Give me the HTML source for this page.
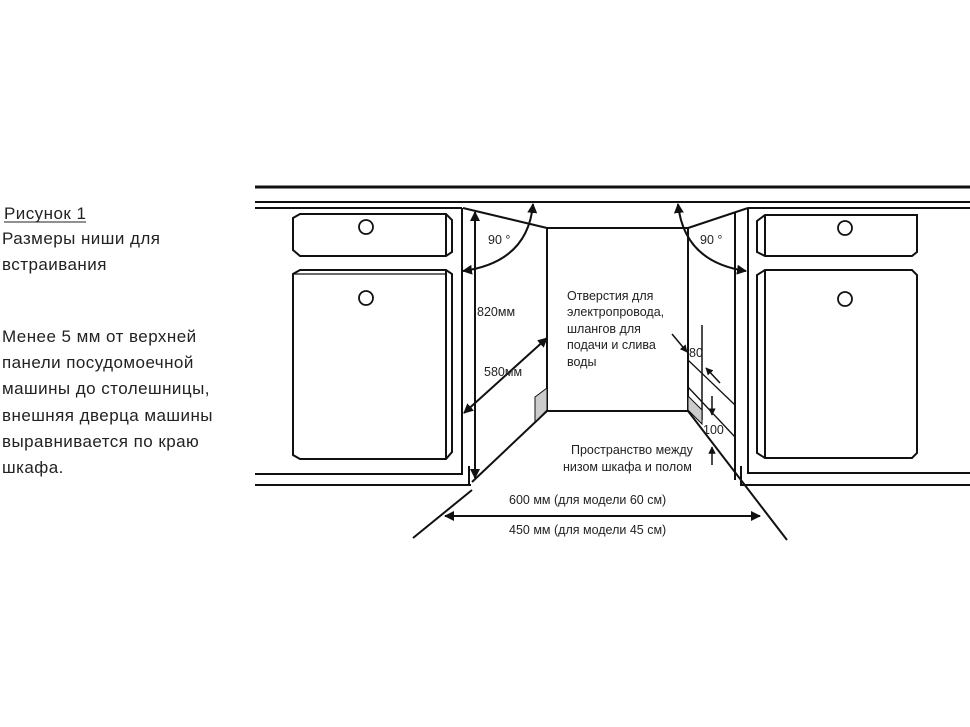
<!DOCTYPE html>
<html><head><meta charset="utf-8"><style>
body{margin:0;background:#fff;width:970px;height:727px;overflow:hidden}
svg{display:block}
text{font-family:"Liberation Sans",sans-serif;fill:#222}
</style></head><body>
<svg width="970" height="727" viewBox="0 0 970 727" xmlns="http://www.w3.org/2000/svg">
<defs>
<marker id="a" viewBox="0 0 10 10" refX="9" refY="5" markerWidth="5" markerHeight="5" orient="auto-start-reverse"><path d="M0,0L10,5L0,10z" fill="#111"/></marker>
</defs>
<g font-size="17" letter-spacing="0.45">
<text x="4" y="219">Рисунок 1</text>
<line x1="4" y1="222" x2="86" y2="222" stroke="#222" stroke-width="1"/>
<text x="2" y="244">Размеры ниши для</text>
<text x="2" y="270">встраивания</text>
<text x="2" y="342">Менее 5 мм от верхней</text>
<text x="2" y="368">панели посудомоечной</text>
<text x="2" y="394">машины до столешницы,</text>
<text x="2" y="421">внешняя дверца машины</text>
<text x="2" y="447">выравнивается по краю</text>
<text x="2" y="473">шкафа.</text>
</g>
<g stroke="#111" fill="none" stroke-width="2">
<line x1="255" y1="187" x2="970" y2="187" stroke-width="3"/>
<line x1="255" y1="202" x2="970" y2="202"/>
<line x1="255" y1="208" x2="462" y2="208"/>
<polyline points="462,208 462,474 255,474"/>
<line x1="255" y1="485" x2="471" y2="485"/>
<line x1="469" y1="466" x2="469" y2="485"/>
<path d="M300,214 H446 L452,220 V252 L446,256 H300 L293,250 V218Z"/>
<line x1="446" y1="214" x2="446" y2="256"/>
<path d="M300,270 H446 L452,274 V452 L446,459 H300 L293,455 V274Z"/>
<line x1="446" y1="270" x2="446" y2="459"/>
<line x1="293" y1="274" x2="446" y2="274" stroke-width="1.2"/>
<circle cx="366" cy="227" r="7" stroke-width="1.8"/>
<circle cx="366" cy="298" r="7" stroke-width="1.8"/>
<line x1="463" y1="208" x2="547" y2="228"/>
<rect x="547" y="228" width="141" height="183"/>
<line x1="547" y1="411" x2="472" y2="482"/>
<line x1="688" y1="228" x2="748" y2="208"/>
<line x1="688" y1="411" x2="787" y2="540"/>
<line x1="735" y1="213" x2="735" y2="480"/>
<polyline points="748,208 748,473 970,473"/>
<line x1="748" y1="208" x2="970" y2="208"/>
<polyline points="741,466 741,485 970,485"/>
<path d="M765,215 H917 V252 L912,256 H765 L757,252 V221Z"/>
<line x1="765" y1="215" x2="765" y2="256"/>
<path d="M765,270 H912 L917,275 V453 L912,458 H765 L757,453 V275Z"/>
<line x1="765" y1="270" x2="765" y2="458"/>
<circle cx="845" cy="228" r="7" stroke-width="1.8"/>
<circle cx="845" cy="299" r="7" stroke-width="1.8"/>
<line x1="702" y1="325" x2="702" y2="420" stroke-width="1.5"/>
<line x1="688" y1="360" x2="735" y2="405" stroke-width="1.3"/>
<line x1="688" y1="387" x2="735" y2="437" stroke-width="1.3"/>
</g>
<path d="M535,397 L547,388 V410 L535,422Z" fill="#ccc" stroke="#111" stroke-width="1"/>
<path d="M688,396 L702,410 V424 L688,410Z" fill="#ccc" stroke="#111" stroke-width="1"/>
<g stroke="#111" fill="none" stroke-width="2">
<line x1="475" y1="212" x2="475" y2="478" marker-start="url(#a)" marker-end="url(#a)"/>
<line x1="464" y1="413" x2="547" y2="338" marker-start="url(#a)" marker-end="url(#a)"/>
<path d="M463,271 Q528,262 533,204" marker-start="url(#a)" marker-end="url(#a)"/>
<path d="M746,271 Q684,262 678,204" marker-start="url(#a)" marker-end="url(#a)"/>
<line x1="445" y1="516" x2="760" y2="516" marker-start="url(#a)" marker-end="url(#a)"/>
<line x1="413" y1="538" x2="472" y2="490"/>
<line x1="672" y1="334" x2="687" y2="352" marker-end="url(#a)" stroke-width="1.5"/>
<line x1="720" y1="383" x2="706" y2="368" marker-end="url(#a)" stroke-width="1.5"/>
<line x1="712" y1="396" x2="712" y2="415" marker-end="url(#a)" stroke-width="1.5"/>
<line x1="712" y1="465" x2="712" y2="447" marker-end="url(#a)" stroke-width="1.5"/>
</g>
<g font-size="12.5">
<text x="488" y="244">90 °</text>
<text x="700" y="244">90 °</text>
<text x="477" y="316">820мм</text>
<text x="484" y="376">580мм</text>
<text x="567" y="300">Отверстия для</text>
<text x="567" y="316">электропровода,</text>
<text x="567" y="333">шлангов для</text>
<text x="567" y="349">подачи и слива</text>
<text x="567" y="366">воды</text>
<text x="689" y="357">80</text>
<text x="703" y="434">100</text>
<text x="571" y="454">Пространство между</text>
<text x="563" y="471">низом шкафа и полом</text>
<text x="509" y="504">600 мм (для модели 60 см)</text>
<text x="509" y="534">450 мм (для модели 45 см)</text>
</g>
</svg>
</body></html>
